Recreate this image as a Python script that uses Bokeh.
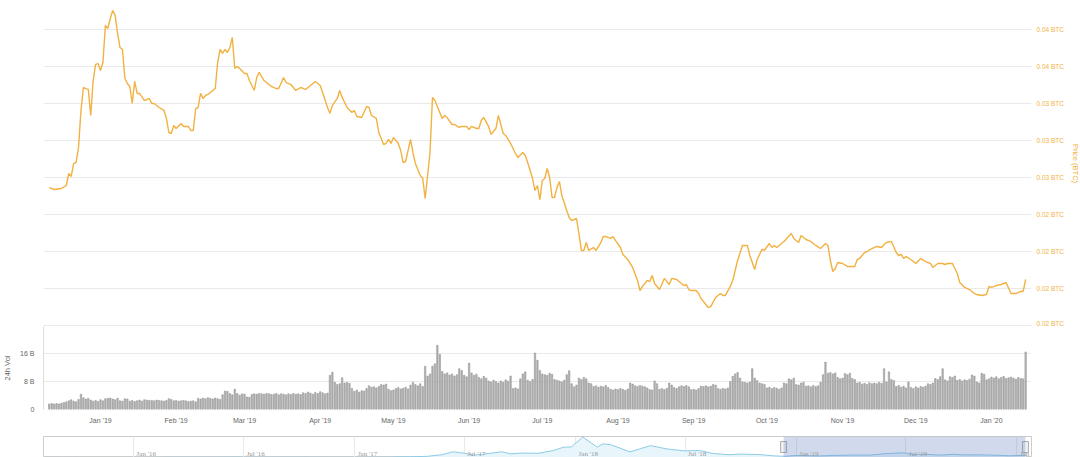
import numpy as np
import pandas as pd
from bokeh.plotting import figure
from bokeh.models import (Range1d, FixedTicker, CustomJSTickFormatter, DatetimeTickFormatter,
                          MonthsTicker, BoxAnnotation, ColumnDataSource, LabelSet)
from bokeh.layouts import column
from bokeh.embed import file_html
from bokeh.resources import INLINE

# ---------------- data ----------------
start_date = "2018-12-11"

# price in BTC, sampled days since start_date
price_day = [
    0, 2, 5, 7, 8, 9, 10, 11, 12, 13,
    14, 15, 16, 17, 18, 19, 20, 21, 22, 23,
    24, 25, 26, 27, 28, 29, 30, 31, 32, 33,
    34, 35, 36, 37, 39, 41, 42, 43, 45, 47,
    48, 49, 50, 51, 52, 54, 55, 57, 58, 59,
    60, 61, 62, 63, 64, 65, 66, 68, 69, 70,
    71, 72, 73, 74, 75, 76, 77, 78, 80, 81,
    82, 84, 85, 86, 88, 89, 91, 93, 94, 96,
    97, 99, 101, 103, 105, 107, 109, 111, 112, 114,
    115, 116, 118, 119, 120, 122, 124, 125, 126, 128,
    130, 131, 132, 134, 135, 137, 138, 139, 140, 141,
    143, 144, 145, 146, 148, 149, 150, 152, 153, 154,
    156, 157, 158, 160, 161, 162, 163, 165, 166, 168,
    169, 171, 172, 173, 175, 176, 177, 178, 180, 181,
    183, 184, 186, 187, 189, 190, 191, 192, 194, 195,
    196, 198, 199, 200, 201, 202, 203, 204, 205, 206,
    207, 208, 209, 210, 212, 213, 214, 216, 217, 218,
    219, 220, 221, 223, 224, 226, 227, 228, 230, 231,
    232, 234, 235, 237, 239, 241, 242, 243, 245, 246,
    247, 248, 250, 252, 254, 255, 257, 259, 260, 261,
    262, 263, 265, 266, 267, 269, 270, 271, 273, 275,
    276, 277, 279, 280, 282, 284, 286, 287, 289, 290,
    292, 293, 295, 296, 297, 298, 300, 301, 304, 305,
    307, 308, 310, 312, 314, 316, 318, 319, 320, 321,
    322, 323, 325, 327, 330, 331, 332, 334, 335, 337,
    339, 341, 342, 343, 345, 347, 348, 349, 350, 351,
    353, 355, 357, 359, 361, 362, 364, 366, 367, 368,
    370, 372, 373, 375, 377, 379, 380, 382, 384, 385,
    386, 388, 390, 392, 394, 396, 398, 399, 400,
]
price_btc = [
    0.02682, 0.02669, 0.02676, 0.02696, 0.02777, 0.02757, 0.02845, 0.02851, 0.02953, 0.03203,
    0.03358, 0.03351, 0.03345, 0.03169, 0.03405, 0.03514, 0.03520, 0.03473, 0.03527, 0.03777,
    0.03757, 0.03824, 0.03878, 0.03845, 0.03723, 0.03628, 0.03615, 0.03419, 0.03385, 0.03365,
    0.03250, 0.03399, 0.03318, 0.03318, 0.03270, 0.03284, 0.03250, 0.03250, 0.03223, 0.03203,
    0.03149, 0.03054, 0.03047, 0.03101, 0.03081, 0.03115, 0.03095, 0.03095, 0.03068, 0.03068,
    0.03216, 0.03223, 0.03318, 0.03284, 0.03304, 0.03311, 0.03324, 0.03351, 0.03527, 0.03615,
    0.03588, 0.03615, 0.03595, 0.03628, 0.03696, 0.03487, 0.03500, 0.03487, 0.03453, 0.03453,
    0.03405, 0.03338, 0.03426, 0.03460, 0.03405, 0.03392, 0.03365, 0.03351, 0.03351, 0.03426,
    0.03392, 0.03378, 0.03338, 0.03358, 0.03345, 0.03372, 0.03399, 0.03372, 0.03324, 0.03223,
    0.03183, 0.03237, 0.03284, 0.03338, 0.03291, 0.03223, 0.03189, 0.03203, 0.03162, 0.03155,
    0.03230, 0.03223, 0.03169, 0.03149, 0.03054, 0.02973, 0.02980, 0.03007, 0.02980, 0.03020,
    0.02980, 0.02932, 0.02851, 0.02858, 0.03007, 0.02919, 0.02845, 0.02764, 0.02743, 0.02608,
    0.02919, 0.03291, 0.03270, 0.03189, 0.03149, 0.03169, 0.03155, 0.03108, 0.03108, 0.03088,
    0.03095, 0.03095, 0.03074, 0.03095, 0.03081, 0.03081, 0.03135, 0.03155, 0.03095, 0.03041,
    0.03081, 0.03169, 0.03047, 0.03034, 0.02980, 0.02946, 0.02912, 0.02885, 0.02919, 0.02899,
    0.02851, 0.02743, 0.02662, 0.02696, 0.02601, 0.02730, 0.02743, 0.02811, 0.02750, 0.02615,
    0.02615, 0.02682, 0.02723, 0.02628, 0.02527, 0.02480, 0.02459, 0.02473, 0.02372, 0.02257,
    0.02257, 0.02311, 0.02257, 0.02277, 0.02257, 0.02311, 0.02351, 0.02351, 0.02338, 0.02351,
    0.02324, 0.02277, 0.02230, 0.02196, 0.02142, 0.02054, 0.01986, 0.02014, 0.02054, 0.02047,
    0.02088, 0.02034, 0.01993, 0.02068, 0.02027, 0.02068, 0.02061, 0.02034, 0.02020, 0.02027,
    0.01993, 0.01986, 0.01986, 0.01966, 0.01932, 0.01892, 0.01872, 0.01878, 0.01939, 0.01966,
    0.01953, 0.01953, 0.02014, 0.02054, 0.02189, 0.02291, 0.02291, 0.02223, 0.02128, 0.02196,
    0.02264, 0.02257, 0.02304, 0.02277, 0.02291, 0.02277, 0.02304, 0.02318, 0.02372, 0.02338,
    0.02311, 0.02358, 0.02331, 0.02318, 0.02291, 0.02270, 0.02304, 0.02291, 0.02189, 0.02115,
    0.02135, 0.02176, 0.02169, 0.02149, 0.02149, 0.02196, 0.02203, 0.02243, 0.02250, 0.02270,
    0.02284, 0.02277, 0.02297, 0.02311, 0.02318, 0.02243, 0.02223, 0.02230, 0.02203, 0.02216,
    0.02196, 0.02169, 0.02203, 0.02182, 0.02169, 0.02142, 0.02169, 0.02169, 0.02162, 0.02169,
    0.02169, 0.02101, 0.02041, 0.02007, 0.01993, 0.01966, 0.01959, 0.01953, 0.01959, 0.02014,
    0.02007, 0.02020, 0.02027, 0.02041, 0.01966, 0.01966, 0.01980, 0.01980, 0.02061,
]

# 24h volume (billions), one bar per day from start_date
volume_b = [
    1.6, 1.7, 1.6, 1.7, 1.6, 1.8,
    2.0, 2.2, 2.5, 2.8, 2.4, 2.2, 2.9,
    4.4,
    3.4, 3.0, 3.2,
    2.7, 2.4, 2.6, 2.3, 2.8, 2.5, 3.1,
    3.2, 3.3, 3.0, 2.8, 3.2,
    2.5, 2.4,
    3.1, 3.0,
    2.4, 2.6, 2.3, 2.5, 2.7, 2.4,
    2.8, 2.7, 2.6,
    2.6, 2.5, 2.7, 2.6, 2.5, 2.4, 2.6,
    3.1, 2.9,
    2.5, 2.6, 2.4, 2.5, 2.6, 2.5, 2.3, 2.4, 2.5, 2.2,
    3.2, 3.0, 3.3, 3.1, 3.4, 3.2, 3.0, 3.3, 3.1, 2.9,
    4.2, 5.3, 5.2,
    4.6, 4.2,
    5.8,
    4.6, 4.1,
    4.5, 4.4,
    3.6, 3.5,
    4.3, 4.5, 4.4, 4.6, 4.5, 4.4, 4.6, 4.5, 4.3, 4.4, 4.6, 4.2, 4.5,
    4.4, 4.2, 4.5, 4.3, 4.6, 4.4, 4.5, 4.3,
    4.8, 4.6, 5.0, 4.7, 4.4,
    4.9, 4.6, 5.1, 4.8, 4.5, 4.7,
    9.8, 10.7,
    7.8, 7.2, 7.4,
    9.1,
    7.6, 7.8, 7.5, 6.0,
    5.2, 5.6, 5.0, 5.4, 5.3, 6.0,
    6.8, 6.4, 6.5, 6.2, 6.6,
    7.2, 7.0, 7.3,
    5.8, 5.4, 5.6,
    6.0, 6.3, 5.9, 6.1, 6.4, 5.9,
    7.0, 7.8, 7.2, 6.8, 7.4,
    6.6,
    12.4, 9.6, 10.2, 12.4, 13.1, 18.4, 15.8,
    10.9, 10.2,
    10.5, 9.9, 10.2, 9.6, 10.0,
    11.7, 11.2,
    9.8, 9.4,
    13.3,
    10.5, 9.8, 10.1,
    9.2, 8.8, 9.5, 9.0,
    8.2, 7.9, 8.4, 8.0, 7.6, 8.2, 7.8, 8.5, 8.1,
    9.6,
    6.0, 6.2, 5.9,
    8.8, 10.2, 10.8,
    8.4, 8.0, 8.6,
    16.2, 14.1, 11.2,
    10.2, 10.0, 9.8, 10.4, 10.1,
    8.6, 8.4,
    8.2, 7.9, 8.4,
    10.0, 11.1,
    7.4, 6.5, 7.0,
    9.0, 8.6, 9.2, 8.8,
    7.6, 7.4,
    6.6, 6.8, 6.4, 6.7, 6.5, 6.9, 6.3,
    5.8, 5.6, 5.9, 5.7, 6.0, 5.8, 5.5, 5.9,
    7.6, 7.3,
    6.8, 6.6, 6.9, 6.7, 6.5, 6.2,
    5.7, 5.6,
    8.2, 7.4,
    5.8, 6.0, 5.7, 6.1,
    7.6, 7.0,
    6.3, 6.0, 6.5,
    6.8, 6.6, 6.9, 6.5,
    5.7, 5.8, 5.6, 6.0,
    6.7, 6.6, 6.8, 6.5, 6.7,
    7.2, 7.0,
    6.0, 5.8, 6.1, 5.9, 6.2,
    8.0, 9.5, 10.2,
    10.6, 9.0,
    7.9, 7.8, 7.6, 7.9,
    11.7,
    9.0, 8.3, 7.6,
    7.4, 7.2,
    6.2, 6.4, 6.0, 6.3, 6.1, 5.8, 6.2,
    7.6, 7.4,
    8.8, 8.5, 9.0,
    7.2, 7.0,
    7.6, 7.8,
    6.7, 6.8, 6.5, 6.9, 6.6, 6.8,
    7.8, 10.0,
    13.6,
    10.4, 10.6, 10.2, 10.5,
    9.2, 8.8, 9.0,
    10.3, 10.0, 10.4,
    8.9, 8.6,
    7.6, 7.8, 7.3, 7.5, 7.2, 7.7, 7.4,
    7.6, 7.4, 7.8, 7.5,
    11.7, 7.9, 10.8,
    8.6, 8.3,
    6.6, 6.9, 6.4, 6.7, 6.2,
    7.9,
    6.3, 6.0, 6.5, 6.2, 6.6, 6.4, 6.7,
    7.4, 7.2, 7.6,
    8.9, 8.6, 9.4,
    11.7,
    8.5, 8.2,
    9.4, 9.2, 9.6,
    8.4, 8.6, 8.2, 8.5, 8.3, 8.7,
    9.9, 9.6,
    7.9, 7.6,
    10.4, 10.1,
    8.5, 8.8,
    9.3, 9.0, 9.4, 8.8, 9.2, 9.5, 8.9, 9.1, 9.3,
    9.0, 8.7, 9.2, 8.9, 8.8,
    16.5,
]

price_ticks = [0.0175, 0.0200, 0.0225, 0.0250, 0.0275, 0.0300, 0.0325, 0.0350, 0.0375]
price_tick_labels = ["0.02 BTC", "0.02 BTC", "0.02 BTC", "0.02 BTC", "0.03 BTC",
                     "0.03 BTC", "0.03 BTC", "0.04 BTC", "0.04 BTC"]
vol_ticks = [0, 8e9, 16e9]
vol_tick_labels = ["0", "8 B", "16 B"]

# navigator: full history series
nav_dates = [
    "2015-08-07", "2015-09-01", "2015-10-01", "2015-11-01", "2015-12-01", "2016-01-01",
    "2016-02-01", "2016-03-01", "2016-03-15", "2016-04-01", "2016-05-01", "2016-06-01",
    "2016-06-17", "2016-07-01", "2016-08-01", "2016-09-01", "2016-10-01", "2016-11-01",
    "2016-12-01", "2017-01-01", "2017-02-01", "2017-03-01", "2017-03-15", "2017-04-01",
    "2017-05-01", "2017-05-25", "2017-06-12", "2017-07-01", "2017-07-16", "2017-08-01",
    "2017-09-01", "2017-09-15", "2017-10-01", "2017-11-01", "2017-11-25", "2017-12-12",
    "2017-12-25", "2018-01-13", "2018-02-06", "2018-02-15", "2018-03-01", "2018-04-01",
    "2018-05-05", "2018-06-01", "2018-07-01", "2018-07-25", "2018-08-15", "2018-09-12",
    "2018-10-01", "2018-11-01", "2018-11-25", "2018-12-14", "2019-01-01", "2019-02-07",
    "2019-03-01", "2019-04-05", "2019-05-01", "2019-05-30", "2019-06-26", "2019-07-15",
    "2019-08-01", "2019-08-29", "2019-09-18", "2019-10-01", "2019-11-01", "2019-12-01",
    "2019-12-18", "2020-01-01", "2020-01-16",
]
nav_values = [
    2.8, 1.3, 0.7, 0.9, 0.9, 0.95,
    2.3, 7.5, 12.5, 11, 9, 14,
    20, 12, 11, 12, 13, 11,
    8, 8, 11, 17, 40, 50,
    80, 190, 390, 290, 160, 225,
    390, 250, 300, 290, 470, 700,
    720, 1390, 700, 930, 860, 380,
    810, 580, 450, 480, 280, 190,
    230, 200, 110, 85, 140, 105,
    135, 170, 160, 270, 320, 200,
    220, 165, 220, 180, 180, 150,
    120, 130, 165,
]
nav_tick_dates = ["2016-01-01", "2016-07-01", "2017-01-01", "2017-07-01", "2018-01-01",
                  "2018-07-01", "2019-01-01", "2019-07-01", "2020-01-01"]
nav_tick_labels = ["Jan '16", "Jul '16", "Jan '17", "Jul '17", "Jan '18",
                   "Jul '18", "Jan '19", "Jul '19", "Jan '20"]

# ---------------- styling ----------------
FONT = "Liberation Sans"
ORANGE = "#f2b140"
GRID = "#e9e9e9"
LABEL = "#666666"
FW = 988
LEFT = 40

start = pd.Timestamp(start_date)
price_dates = start + pd.to_timedelta(price_day, unit="D")
vol_dates = start + pd.to_timedelta(np.arange(len(volume_b)), unit="D")
vol_vals = np.array(volume_b) * 1e9

x_range = Range1d(start - pd.Timedelta(days=2.35), start + pd.Timedelta(days=402.4))

fmt_code = """
let best = 0, bd = Infinity;
for (let i = 0; i < tv.length; i++) {
  const d = Math.abs(tv[i] - tick);
  if (d < bd) { bd = d; best = i; }
}
return tl[best];
"""


def plain_axis(ax):
    ax.major_tick_line_color = None
    ax.minor_tick_line_color = None
    ax.major_tick_out = 0
    ax.major_tick_in = 0
    ax.minor_tick_out = 0
    ax.minor_tick_in = 0


# ---- price panel ----
p = figure(x_axis_type="datetime", x_range=x_range, y_range=Range1d(0.017432, 0.039459),
           frame_width=FW, frame_height=326, x_axis_location=None, y_axis_location="right",
           min_border_left=LEFT, min_border_top=0, min_border_bottom=0, min_border_right=0,
           output_backend="svg", toolbar_location=None)
p.outline_line_color = None
p.xgrid.visible = False
p.ygrid.ticker = FixedTicker(ticks=price_ticks)
p.ygrid.grid_line_color = GRID
ya = p.yaxis[0]
plain_axis(ya)
ya.ticker = FixedTicker(ticks=price_ticks)
ya.formatter = CustomJSTickFormatter(args=dict(tv=price_ticks, tl=price_tick_labels), code=fmt_code)
ya.axis_line_color = None
ya.major_label_standoff = 5
ya.major_label_text_font = FONT
ya.major_label_text_font_size = "6.5px"
ya.major_label_text_color = ORANGE
ya.axis_label = "Price (BTC)"
ya.axis_label_text_font = FONT
ya.axis_label_text_font_size = "7.5px"
ya.axis_label_text_font_style = "normal"
ya.axis_label_text_color = ORANGE
ya.axis_label_standoff = 4
p.line(price_dates, price_btc, line_color=ORANGE, line_width=1.4)

# ---- volume panel ----
v = figure(x_axis_type="datetime", x_range=x_range, y_range=Range1d(0, 23.8e9),
           frame_width=FW, frame_height=83,
           min_border_left=LEFT, min_border_top=0, min_border_bottom=27, min_border_right=0,
           output_backend="svg", toolbar_location=None)
v.outline_line_color = None
v.xgrid.visible = False
v.ygrid.ticker = FixedTicker(ticks=vol_ticks[1:])
v.ygrid.grid_line_color = GRID
vs = ColumnDataSource(dict(date=vol_dates, vol=vol_vals))
v.vbar(x="date", top="vol", width=0.6 * 86400000, source=vs,
       fill_color="#b3b3b3", line_color="#8f8f8f", line_width=0.5)
xa = v.xaxis[0]
plain_axis(xa)
xa.ticker = MonthsTicker(months=list(range(12)))
xa.formatter = DatetimeTickFormatter(days="%b '%y", months="%b '%y", years="%b '%y")
xa.axis_line_color = None
xa.major_label_standoff = 7
xa.major_label_text_font = FONT
xa.major_label_text_font_size = "7px"
xa.major_label_text_color = LABEL
yv = v.yaxis[0]
plain_axis(yv)
yv.ticker = FixedTicker(ticks=vol_ticks)
yv.formatter = CustomJSTickFormatter(args=dict(tv=vol_ticks, tl=vol_tick_labels), code=fmt_code)
yv.axis_line_color = "#dddddd"
yv.major_label_standoff = 9
yv.major_label_text_font = FONT
yv.major_label_text_font_size = "7px"
yv.major_label_text_color = LABEL
yv.axis_label = "24h Vol"
yv.axis_label_text_font = FONT
yv.axis_label_text_font_size = "7.5px"
yv.axis_label_text_font_style = "normal"
yv.axis_label_text_color = LABEL
yv.axis_label_standoff = 5

# ---- navigator ----
nd = pd.to_datetime(nav_dates)
n = figure(x_axis_type="datetime",
           x_range=Range1d(pd.Timestamp("2015-08-05"), pd.Timestamp("2020-01-25")),
           y_range=Range1d(0, 1430), frame_width=FW, frame_height=21,
           x_axis_location=None, y_axis_location=None,
           min_border_left=LEFT, min_border_top=0, min_border_bottom=0, min_border_right=46,
           output_backend="svg", toolbar_location=None)
n.outline_line_color = "#cccccc"
n.ygrid.visible = False
n.xgrid.ticker = MonthsTicker(months=[0, 6])
n.xgrid.grid_line_color = GRID
n.varea(x=nd, y1=np.zeros(len(nav_values)), y2=nav_values, fill_color="#e8f5fb")
n.line(nd, nav_values, line_color="#8ccbe6", line_width=1)
n.add_layout(BoxAnnotation(left=price_dates[0], right=price_dates[-1],
                           fill_color="#6685c2", fill_alpha=0.3, line_color=None))
n.rect(x=[price_dates[0], price_dates[-1]], y=[715, 715], width=6, height=11,
       width_units="screen", height_units="screen",
       fill_color="#f2f2f2", line_color="#999999", line_width=0.8)
nav_lbl_src = ColumnDataSource(dict(x=pd.to_datetime(nav_tick_dates),
                                    y=np.zeros(len(nav_tick_dates)), t=nav_tick_labels))
n.add_layout(LabelSet(x="x", y="y", text="t", source=nav_lbl_src,
                      x_offset=3, y_offset=4, text_baseline="middle", text_align="left",
                      text_font=FONT, text_font_size="7px", text_color="#999999"))

layout = column(p, v, n, spacing=0)
open("out.html", "w").write(file_html(layout, INLINE))
